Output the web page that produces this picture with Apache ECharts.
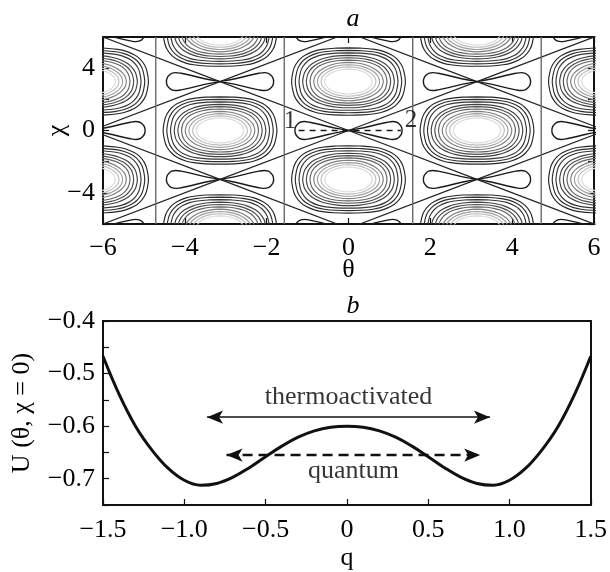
<!DOCTYPE html>
<html>
<head>
<meta charset="utf-8">
<script src="https://cdn.jsdelivr.net/npm/echarts@6/dist/echarts.min.js"></script>
<style>
html, body { margin: 0; padding: 0; background: #ffffff; }
#chart { width: 610px; height: 572px; }
</style>
</head>
<body>
<div id="chart"></div>
<script>
const FONT = '"Liberation Serif", "Times New Roman", serif';
const INK = '#000000';

// ---------- panel a: contour map in the (θ, χ) plane ----------
// lattice of special points: centres of closed orbits where the index sum is odd,
// saddle points where it is even
const latticeTheta = [-6.28, -3.14, 0, 3.14, 6.28];
const latticeChi = [-6.28, -3.14, 0, 3.14, 6.28];
// straight separatrices θ = ±π/2, ±3π/2
const verticalTheta = [-4.71, -1.57, 1.57, 4.71];
// closed contours around each centre, outer to inner
const ringHalfWidth = [1.39, 1.30, 1.21, 1.12, 1.03, 0.94, 0.85, 0.76, 0.67, 0.58];
const ringHalfHeight = [2.16, 2.00, 1.84, 1.68, 1.53, 1.38, 1.23, 1.08, 0.94, 0.80];
const ringColor = ['#262626', '#2e2e2e', '#363636', '#404040', '#4c4c4c',
                   '#626262', '#7e7e7e', '#9e9e9e', '#bebebe', '#dadada'];
const ringShape = [0, 0, 0, 1, 1, 1, 2, 2, 2, 2];
// quarter outlines of the rings (normalised): flatter outer, elliptic inner
const profileU = [0, 0.25, 0.46, 0.6, 0.75, 0.85, 0.93, 0.97, 1];
const profileV = [
  [1, 0.99, 0.955, 0.905, 0.80, 0.675, 0.50, 0.33, 0],
  [1, 0.98, 0.92, 0.85, 0.73, 0.60, 0.43, 0.29, 0],
  [1, 0.968, 0.888, 0.80, 0.661, 0.527, 0.368, 0.243, 0]
];
// figure-eight loops at each saddle: upper half of one lobe
const lobeDTheta = [0, 0.25, 0.5, 0.75, 0.95, 1.08, 1.18, 1.24, 1.29, 1.31];
const lobeDChi = [0, 0.12, 0.26, 0.42, 0.53, 0.575, 0.53, 0.42, 0.25, 0];
// path between the two minima
const pathTheta = [-1.22, 1.28];
const pathChi = [0, 0];
const pointNames = ['1', '2'];
const pointTheta = [-1.43, 1.53];
const pointChi = [0.55, 0.62];

// ---------- panel b: potential along χ = 0 ----------
const qValues = [-1.5, -1.4, -1.3, -1.2, -1.1, -1.0, -0.9, -0.8, -0.7, -0.6, -0.5,
                 -0.4, -0.3, -0.2, -0.1, 0, 0.1, 0.2, 0.3, 0.4, 0.5,
                 0.6, 0.7, 0.8, 0.9, 1.0, 1.1, 1.2, 1.3, 1.4, 1.5];
const uValues = [-0.467, -0.540, -0.600, -0.645, -0.680, -0.703, -0.7125, -0.709, -0.697, -0.679, -0.658,
                 -0.638, -0.621, -0.609, -0.602, -0.600, -0.602, -0.609, -0.621, -0.638, -0.658,
                 -0.679, -0.697, -0.709, -0.7125, -0.703, -0.680, -0.645, -0.600, -0.540, -0.467];
const thermoQ = [-0.86, 0.88];
const thermoU = -0.583;
const quantumQ = [-0.74, 0.82];
const quantumU = -0.655;
const noteText = ['thermoactivated', 'quantum'];
const noteQ = [0.01, 0.04];
const noteU = [-0.544, -0.685];

const series = [];

function ringPath(cx, cy, a, b, v) {
  const n = profileU.length, pts = [];
  for (let k = 0; k < n; k++) pts.push([cx + a * profileU[k], cy + b * v[k]]);
  for (let k = n - 2; k >= 0; k--) pts.push([cx + a * profileU[k], cy - b * v[k]]);
  for (let k = 1; k < n; k++) pts.push([cx - a * profileU[k], cy - b * v[k]]);
  for (let k = n - 2; k >= 0; k--) pts.push([cx - a * profileU[k], cy + b * v[k]]);
  return pts;
}

function lobePath(sx, sy, dir) {
  const n = lobeDTheta.length, pts = [];
  for (let k = 0; k < n; k++) pts.push([sx + dir * lobeDTheta[k], sy + lobeDChi[k]]);
  for (let k = n - 2; k >= 0; k--) pts.push([sx + dir * lobeDTheta[k], sy - lobeDChi[k]]);
  return pts;
}

function contourLine(data, color, width, smooth) {
  series.push({
    type: 'line', xAxisIndex: 0, yAxisIndex: 0, data: data,
    showSymbol: false, symbol: 'none', smooth: smooth, clip: true, silent: true,
    lineStyle: { color: color, width: width }, z: 3
  });
}

for (let i = 0; i < latticeTheta.length; i++) {
  for (let j = 0; j < latticeChi.length; j++) {
    const x = latticeTheta[i], y = latticeChi[j];
    if ((i + j) % 2 === 1) {
      for (let r = 0; r < ringHalfWidth.length; r++) {
        contourLine(ringPath(x, y, ringHalfWidth[r], ringHalfHeight[r], profileV[ringShape[r]]),
                    ringColor[r], 1.15, 0.35);
      }
    } else {
      contourLine(lobePath(x, y, 1), '#1a1a1a', 1.4, 0.35);
      contourLine(lobePath(x, y, -1), '#1a1a1a', 1.4, 0.35);
      // diagonal separatrices towards the neighbouring saddles
      if (i + 1 < latticeTheta.length && j + 1 < latticeChi.length)
        contourLine([[x, y], [latticeTheta[i + 1], latticeChi[j + 1]]], '#262626', 1.2, false);
      if (i + 1 < latticeTheta.length && j - 1 >= 0)
        contourLine([[x, y], [latticeTheta[i + 1], latticeChi[j - 1]]], '#262626', 1.2, false);
    }
  }
}
verticalTheta.forEach(function (t) {
  contourLine([[t, -6], [t, 6]], '#6a6a6a', 1.4, false);
});

series.push({
  type: 'line', xAxisIndex: 0, yAxisIndex: 0,
  data: pathTheta.map(function (t, k) { return [t, pathChi[k]]; }),
  showSymbol: false, symbol: 'none', silent: true, z: 5,
  lineStyle: { color: '#1a1a1a', width: 1.4, type: [6, 5] }
});
series.push({
  type: 'scatter', xAxisIndex: 0, yAxisIndex: 0, symbolSize: 0, silent: true, z: 6,
  data: pointNames.map(function (s, k) { return { name: s, value: [pointTheta[k], pointChi[k]] }; }),
  label: { show: true, position: 'inside', formatter: '{b}', color: INK,
           fontFamily: FONT, fontSize: 25 }
});

// panel b curve with the two transition arrows
series.push({
  type: 'line', xAxisIndex: 2, yAxisIndex: 2,
  data: qValues.map(function (q, k) { return [q, uValues[k]]; }),
  showSymbol: false, symbol: 'none', smooth: 0.4, silent: true,
  lineStyle: { color: '#111111', width: 3 }, z: 4,
  markLine: {
    silent: true, symbol: ['arrow', 'arrow'], symbolSize: [10, 16],
    label: { show: false },
    data: [
      [{ coord: [thermoQ[0], thermoU], lineStyle: { type: 'solid', width: 1.6, color: '#111111' } },
       { coord: [thermoQ[1], thermoU] }],
      [{ coord: [quantumQ[0], quantumU], lineStyle: { type: [10, 6], width: 2.4, color: '#111111' } },
       { coord: [quantumQ[1], quantumU] }]
    ]
  }
});
series.push({
  type: 'scatter', xAxisIndex: 2, yAxisIndex: 2, symbolSize: 0, silent: true,
  data: noteText.map(function (s, k) { return { name: s, value: [noteQ[k], noteU[k]] }; }),
  label: { show: true, position: 'inside', formatter: '{b}', color: INK,
           fontFamily: FONT, fontSize: 26 }
});

function minus(s) { return String(s).replace('-', '\u2212'); }

const tickStyle = { show: true, inside: true, length: 6, lineStyle: { color: '#111111', width: 1.2 } };
const lineStyleAxis = { show: true, onZero: false, lineStyle: { color: '#111111', width: 2 } };
const labelFont = { color: INK, fontFamily: FONT, fontSize: 26 };
const nameFont = { color: INK, fontFamily: FONT, fontSize: 26 };
const titleFont = { fontFamily: FONT, fontStyle: 'italic', fontWeight: 'normal', fontSize: 26, color: INK };

const option = {
  backgroundColor: '#ffffff',
  animation: false,
  title: [
    { text: 'a', left: 348, top: 1, textAlign: 'center', textStyle: titleFont },
    { text: 'b', left: 348, top: 288, textAlign: 'center', textStyle: titleFont }
  ],
  grid: [
    { left: 103, right: 16, top: 37, height: 187 },
    { left: 103, right: 16, top: 321, height: 188 }
  ],
  xAxis: [
    { type: 'value', gridIndex: 0, min: -6, max: 6, interval: 2, position: 'bottom',
      axisLine: lineStyleAxis, axisTick: tickStyle, splitLine: { show: false },
      axisLabel: Object.assign({ margin: 11, showMinLabel: true, showMaxLabel: true,
                                 formatter: function (v) { return minus(v); } }, labelFont),
      name: 'θ', nameLocation: 'middle', nameGap: 33, nameMoveOverlap: false, nameTextStyle: nameFont },
    { type: 'value', gridIndex: 0, min: -6, max: 6, interval: 2, position: 'top',
      axisLine: lineStyleAxis, axisTick: tickStyle, splitLine: { show: false },
      axisLabel: { show: false } },
    { type: 'value', gridIndex: 1, min: -1.5, max: 1.5, interval: 0.5, position: 'bottom',
      axisLine: lineStyleAxis, axisTick: tickStyle, splitLine: { show: false },
      axisLabel: Object.assign({ margin: 12, showMinLabel: true, showMaxLabel: true,
        formatter: function (v) { return v === 0 ? '0' : (v < 0 ? '\u2212' : '') + Math.abs(v).toFixed(1); } }, labelFont),
      name: 'q', nameLocation: 'middle', nameGap: 40, nameMoveOverlap: false, nameTextStyle: nameFont },
    { type: 'value', gridIndex: 1, min: -1.5, max: 1.5, interval: 0.5, position: 'top',
      axisLine: lineStyleAxis, axisTick: { show: false }, splitLine: { show: false },
      axisLabel: { show: false } }
  ],
  yAxis: [
    { type: 'value', gridIndex: 0, min: -6, max: 6, interval: 2, position: 'left',
      axisLine: lineStyleAxis, axisTick: tickStyle, splitLine: { show: false },
      axisLabel: Object.assign({ margin: 8,
        formatter: function (v) { return (v === -4 || v === 0 || v === 4) ? minus(v) : ''; } }, labelFont),
      name: 'χ', nameLocation: 'middle', nameGap: 33, nameMoveOverlap: false, nameTextStyle: nameFont },
    { type: 'value', gridIndex: 0, min: -6, max: 6, interval: 2, position: 'right',
      axisLine: lineStyleAxis, axisTick: tickStyle, splitLine: { show: false },
      axisLabel: { show: false } },
    { type: 'value', gridIndex: 1, min: -0.75, max: -0.4, interval: 0.05, position: 'left',
      axisLine: lineStyleAxis, axisTick: tickStyle, splitLine: { show: false },
      axisLabel: Object.assign({ margin: 8, showMinLabel: true, showMaxLabel: true,
        formatter: function (v) {
          const r = Math.round(v * 100);
          return (r % 10 === 0 && r > -75) ? '\u2212' + Math.abs(v).toFixed(1) : '';
        } }, labelFont),
      name: 'U (θ, χ = 0)', nameLocation: 'middle', nameGap: 68, nameMoveOverlap: false, nameTextStyle: nameFont },
    { type: 'value', gridIndex: 1, min: -0.75, max: -0.4, interval: 0.05, position: 'right',
      axisLine: lineStyleAxis, axisTick: { show: false }, splitLine: { show: false },
      axisLabel: { show: false } }
  ],
  series: series
};

const chart = echarts.init(document.getElementById('chart'), null, { renderer: 'canvas' });
chart.setOption(option);
</script>
</body>
</html>
